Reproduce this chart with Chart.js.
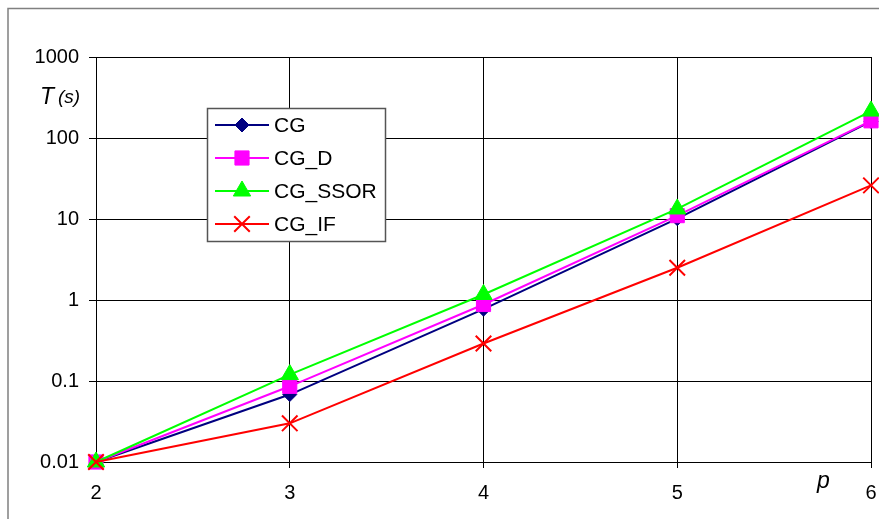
<!DOCTYPE html>
<html>
<head>
<meta charset="utf-8">
<script src="https://cdn.jsdelivr.net/npm/chart.js@4/dist/chart.umd.min.js"></script>
<style>
  html, body { margin: 0; padding: 0; background: #fff; }
  #wrap { width: 879px; height: 519px; position: relative; }
</style>
</head>
<body>
<div id="wrap"><canvas id="chart" width="879" height="519"></canvas></div>
<script>
const pValues = [2, 3, 4, 5, 6];
const seriesNames = ['CG', 'CG_D', 'CG_SSOR', 'CG_IF'];
const cgTimes = [0.01, 0.068, 0.77, 10.1, 160];
const cgdTimes = [0.01, 0.086, 0.88, 11, 163];
const ssorTimes = [0.01, 0.12, 1.17, 13.3, 215];
const ifTimes = [0.01, 0.03, 0.29, 2.5, 26];
const yTicks = [0.01, 0.1, 1, 10, 100, 1000];
const yTickLabels = ['0.01', '0.1', '1', '10', '100', '1000'];

const FONT = '"Liberation Sans", Arial, sans-serif';

function toPoints(vals) {
    return pValues.map((p, i) => ({ x: p, y: vals[i] }));
}

const styles = [
    { color: '#000080', pointStyle: 'rectRot', radius: 7 },
    { color: '#FF00FF', pointStyle: 'rect', radius: 10 },
    { color: '#00FF00', pointStyle: 'triangle', radius: 10 },
    { color: '#FF0000', pointStyle: 'crossRot', radius: 11 }
];
const allTimes = [cgTimes, cgdTimes, ssorTimes, ifTimes];

const datasets = seriesNames.map((name, i) => ({
    label: name,
    data: toPoints(allTimes[i]),
    borderColor: styles[i].color,
    backgroundColor: styles[i].color,
    borderWidth: 2,
    pointStyle: styles[i].pointStyle,
    pointRadius: styles[i].radius,
    pointBorderWidth: styles[i].pointStyle === 'crossRot' ? 2 : 1,
    pointBackgroundColor: styles[i].color,
    pointBorderColor: styles[i].color,
    showLine: true,
    clip: false,
    tension: 0,
    order: seriesNames.length - i
}));

function drawMarker(ctx, ds, x, y) {
    ctx.save();
    ctx.fillStyle = ds.backgroundColor;
    ctx.strokeStyle = ds.borderColor;
    ctx.lineWidth = ds.pointBorderWidth;
    Chart.helpers.drawPoint(ctx, {
        pointStyle: ds.pointStyle,
        radius: ds.pointRadius,
        borderWidth: ds.pointBorderWidth,
        rotation: 0
    }, x, y);
    ctx.restore();
}

// frame, axis titles and the legend box inside the plot
const decorations = {
    id: 'decorations',
    beforeDraw(chart) {
        const ctx = chart.ctx;
        ctx.save();
        ctx.fillStyle = '#fff';
        ctx.fillRect(0, 0, chart.width, chart.height);
        ctx.strokeStyle = '#808080';
        ctx.lineWidth = 1.5;
        ctx.strokeRect(8, 8.5, 900, 600);
        ctx.restore();
    },
    afterDraw(chart) {
        const ctx = chart.ctx;
        ctx.save();
        ctx.fillStyle = '#000';
        ctx.textBaseline = 'alphabetic';
        ctx.font = 'italic 23px ' + FONT;
        ctx.fillText('T', 40, 104);
        ctx.font = 'italic 19px ' + FONT;
        ctx.fillText('(s)', 58, 103);
        ctx.font = 'italic 23px ' + FONT;
        ctx.fillText('p', 817, 488);

        // legend
        const lx = 207.5, ly = 108.5, lw = 178, lh = 133;
        ctx.fillStyle = '#fff';
        ctx.fillRect(lx, ly, lw, lh);
        ctx.strokeStyle = '#555';
        ctx.lineWidth = 1.5;
        ctx.strokeRect(lx, ly, lw, lh);
        const rowY = [125, 158, 191, 224];
        chart.data.datasets.forEach((ds, i) => {
            const y = rowY[i];
            ctx.strokeStyle = ds.borderColor;
            ctx.lineWidth = 2;
            ctx.beginPath();
            ctx.moveTo(215, y);
            ctx.lineTo(269, y);
            ctx.stroke();
            drawMarker(ctx, ds, 242, y);
            ctx.fillStyle = '#000';
            ctx.font = '21px ' + FONT;
            ctx.textBaseline = 'middle';
            ctx.fillText(ds.label, 274, y + 1);
        });
        ctx.restore();
    }
};

new Chart(document.getElementById('chart'), {
    type: 'scatter',
    data: { datasets: datasets },
    options: {
        responsive: false,
        animation: false,
        events: [],
        layout: { autoPadding: false, padding: { left: 0, top: 57, right: 8, bottom: 0 } },
        plugins: {
            legend: { display: false },
            tooltip: { enabled: false }
        },
        scales: {
            x: {
                type: 'linear',
                min: 2,
                max: 6,
                afterFit: scale => {
                    scale.height = 57;
                    scale.paddingLeft = 0;
                    scale.paddingRight = 0;
                },
                afterBuildTicks: scale => {
                    scale.ticks = pValues.map(v => ({ value: v }));
                },
                ticks: {
                    color: '#000',
                    font: { family: FONT, size: 20 },
                    padding: 13,
                    maxRotation: 0,
                    callback: v => String(v)
                },
                grid: { color: '#000', lineWidth: 1, tickLength: 6, drawTicks: true },
                border: { color: '#000', width: 1 }
            },
            y: {
                type: 'logarithmic',
                min: 0.01,
                max: 1000,
                afterFit: scale => {
                    scale.width = 96;
                    scale.paddingTop = 0;
                    scale.paddingBottom = 0;
                },
                afterBuildTicks: scale => {
                    scale.ticks = yTicks.map(v => ({ value: v, major: true }));
                },
                ticks: {
                    color: '#000',
                    font: { family: FONT, size: 20 },
                    padding: 10,
                    callback: (v) => {
                        const idx = yTicks.findIndex(t => Math.abs(t - v) / t < 1e-6);
                        return idx >= 0 ? yTickLabels[idx] : '';
                    }
                },
                grid: { color: '#000', lineWidth: 1, tickLength: 7, drawTicks: true },
                border: { color: '#000', width: 1 }
            }
        }
    },
    plugins: [decorations]
});
</script>
</body>
</html>
